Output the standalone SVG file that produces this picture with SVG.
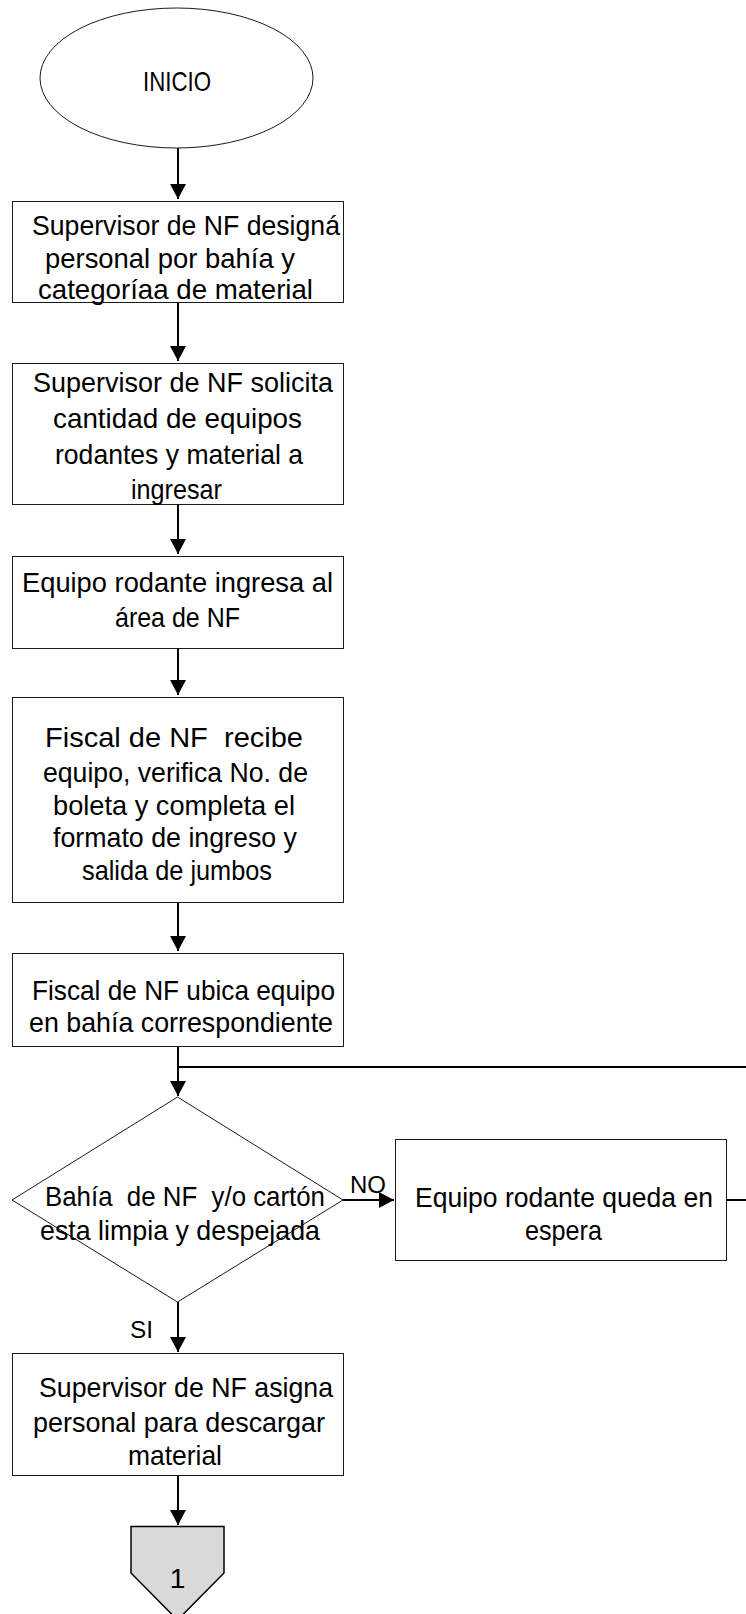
<svg xmlns="http://www.w3.org/2000/svg" width="746" height="1614" viewBox="0 0 746 1614">
<style>
  .shape { fill: #ffffff; stroke: #1a1a1a; stroke-width: 1; }
  .conn { fill: none; stroke: #000000; stroke-width: 2; }
  text { font-family: "Liberation Sans", Arial, sans-serif; font-size: 28px; fill: #000000; }
  .lbl { font-size: 24px; }
</style>
<defs>
  <marker id="arrow" markerUnits="userSpaceOnUse" markerWidth="16" markerHeight="16" refX="15" refY="8" orient="auto">
    <path d="M0,0 L15,8 L0,16 z" fill="#000000"/>
  </marker>
</defs>
<rect x="0" y="0" width="746" height="1614" fill="#ffffff"/>

<g id="connectors">
  <path class="conn" d="M178,148 V199" marker-end="url(#arrow)"/>
  <path class="conn" d="M178,302 V361" marker-end="url(#arrow)"/>
  <path class="conn" d="M178,504 V554" marker-end="url(#arrow)"/>
  <path class="conn" d="M178,648 V695" marker-end="url(#arrow)"/>
  <path class="conn" d="M178,902 V951" marker-end="url(#arrow)"/>
  <path class="conn" d="M178,1046 V1096" marker-end="url(#arrow)"/>
  <path class="conn" d="M726,1200 H748 V1067 H178"/>
  <path class="conn" d="M343,1200 H394" marker-end="url(#arrow)"/>
  <path class="conn" d="M178,1302 V1352" marker-end="url(#arrow)"/>
  <path class="conn" d="M178,1475 V1525" marker-end="url(#arrow)"/>
  <text class="lbl" x="350" y="1193" textLength="36" lengthAdjust="spacingAndGlyphs">NO</text>
  <text class="lbl" x="130" y="1338" textLength="23" lengthAdjust="spacingAndGlyphs">SI</text>
</g>

<g id="inicio">
  <ellipse class="shape" cx="176.5" cy="78" rx="136.5" ry="70"/>
  <text x="143" y="91" font-size="26" textLength="68" lengthAdjust="spacingAndGlyphs">INICIO</text>
</g>

<g id="box1">
  <rect class="shape" x="12.5" y="201.5" width="331" height="101"/>
  <text x="32" y="235" textLength="308" lengthAdjust="spacingAndGlyphs">Supervisor de NF designá</text>
  <text x="45" y="268" textLength="250" lengthAdjust="spacingAndGlyphs">personal por bahía y</text>
  <text x="38" y="299" textLength="275" lengthAdjust="spacingAndGlyphs">categoríaa de material</text>
</g>

<g id="box2">
  <rect class="shape" x="12.5" y="363.5" width="331" height="141"/>
  <text x="33" y="392" textLength="300" lengthAdjust="spacingAndGlyphs">Supervisor de NF solicita</text>
  <text x="53" y="428" textLength="249" lengthAdjust="spacingAndGlyphs">cantidad de equipos</text>
  <text x="55" y="464" textLength="248" lengthAdjust="spacingAndGlyphs">rodantes y material a</text>
  <text x="131" y="499" textLength="91" lengthAdjust="spacingAndGlyphs">ingresar</text>
</g>

<g id="box3">
  <rect class="shape" x="12.5" y="556.5" width="331" height="92"/>
  <text x="22" y="592" textLength="311" lengthAdjust="spacingAndGlyphs">Equipo rodante ingresa al</text>
  <text x="115" y="627" textLength="125" lengthAdjust="spacingAndGlyphs">área de NF</text>
</g>

<g id="box4">
  <rect class="shape" x="12.5" y="697.5" width="331" height="205"/>
  <text x="45" y="747" xml:space="preserve" style="white-space:pre" textLength="258" lengthAdjust="spacingAndGlyphs">Fiscal de NF  recibe</text>
  <text x="43" y="782" textLength="265" lengthAdjust="spacingAndGlyphs">equipo, verifica No. de</text>
  <text x="53" y="815" textLength="242" lengthAdjust="spacingAndGlyphs">boleta y completa el</text>
  <text x="53" y="847" textLength="244" lengthAdjust="spacingAndGlyphs">formato de ingreso y</text>
  <text x="82" y="880" textLength="190" lengthAdjust="spacingAndGlyphs">salida de jumbos</text>
</g>

<g id="box5">
  <rect class="shape" x="12.5" y="953.5" width="331" height="93"/>
  <text x="32" y="1000" textLength="303" lengthAdjust="spacingAndGlyphs">Fiscal de NF ubica equipo</text>
  <text x="29" y="1032" textLength="304" lengthAdjust="spacingAndGlyphs">en bahía correspondiente</text>
</g>

<g id="decision">
  <polygon class="shape" points="177.5,1097 343,1200 177.5,1302 12,1200"/>
  <text x="45" y="1206" xml:space="preserve" style="white-space:pre" textLength="280" lengthAdjust="spacingAndGlyphs">Bahía  de NF  y/o cartón</text>
  <text x="40" y="1240" textLength="280" lengthAdjust="spacingAndGlyphs">esta limpia y despejada</text>
</g>

<g id="espera">
  <rect class="shape" x="395.5" y="1139.5" width="331" height="121"/>
  <text x="415" y="1207" textLength="298" lengthAdjust="spacingAndGlyphs">Equipo rodante queda en</text>
  <text x="525" y="1240" textLength="77" lengthAdjust="spacingAndGlyphs">espera</text>
</g>

<g id="box6">
  <rect class="shape" x="12.5" y="1353.5" width="331" height="122"/>
  <text x="39" y="1397" textLength="294" lengthAdjust="spacingAndGlyphs">Supervisor de NF asigna</text>
  <text x="33" y="1432" textLength="292" lengthAdjust="spacingAndGlyphs">personal para descargar</text>
  <text x="128" y="1465" textLength="94" lengthAdjust="spacingAndGlyphs">material</text>
</g>

<g id="connector1">
  <polygon points="131,1526.5 224,1526.5 224,1573 177.5,1620 131,1573" fill="#d9d9d9" stroke="#000000" stroke-width="1.5"/>
  <text x="177.5" y="1588" font-size="26" text-anchor="middle">1</text>
</g>
</svg>
